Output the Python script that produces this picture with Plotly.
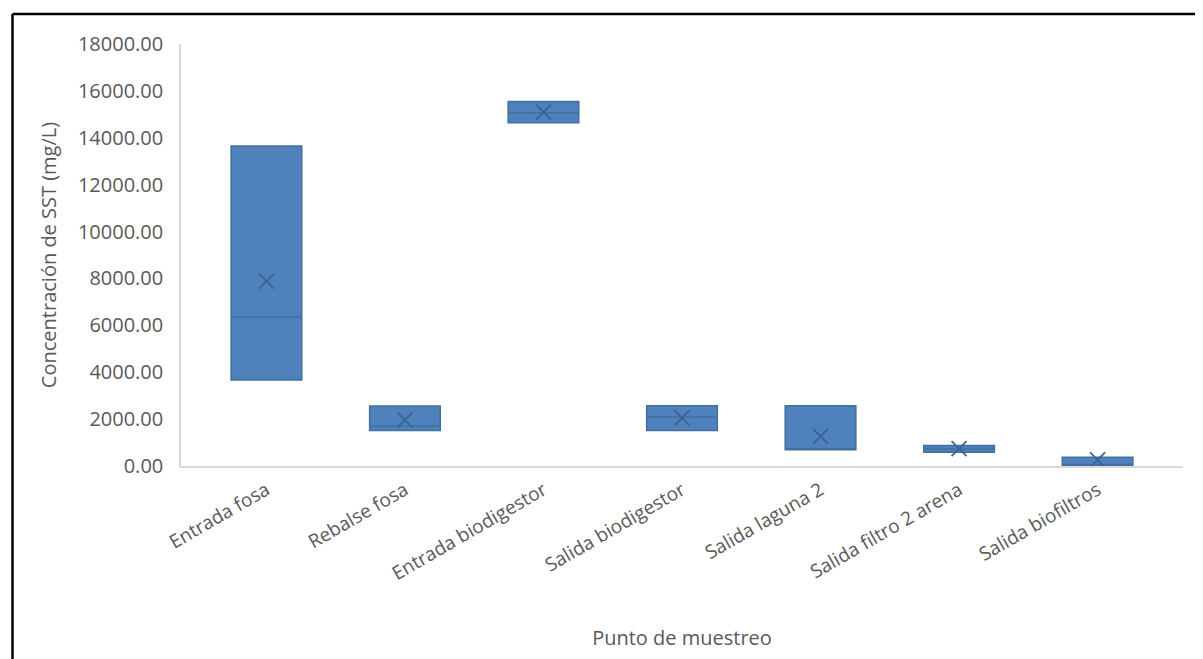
import plotly.graph_objects as go

categories = ["Entrada fosa", "Rebalse fosa", "Entrada biodigestor", "Salida biodigestor",
              "Salida laguna 2", "Salida filtro 2 arena", "Salida biofiltros"]
q1_vals = [3670, 1510, 14640, 1510, 690, 590, 20]
median_vals = [6350, 1710, 15070, 2090, 690, 725, 20]
q3_vals = [13650, 2560, 15550, 2570, 2570, 870, 370]
mean_vals = [7890, 1960, 15100, 2050, 1260, 740, 260]
y_ticks = [0, 2000, 4000, 6000, 8000, 10000, 12000, 14000, 16000, 18000]

FILL = "#4F81BD"
EDGE = "#41709C"
TXT = "#595959"
FONT = "Open Sans"

# page body has an 8px margin; compensate
OFF = 8
W, H = 1203 - OFF, 659 - OFF
L, T = 181 - OFF, 44 - OFF
PW, PH = 1002, 422
R, B = W - L - PW, H - T - PH

fig = go.Figure()
fig.add_trace(go.Box(
    x=categories, q1=q1_vals, median=median_vals, q3=q3_vals,
    lowerfence=q1_vals, upperfence=q3_vals,
    fillcolor=FILL, line=dict(color=EDGE, width=1.5),
    width=0.51, whiskerwidth=0, boxpoints=False, showlegend=False,
    hoverinfo="skip",
))
fig.add_trace(go.Scatter(
    x=categories, y=mean_vals, mode="markers",
    marker=dict(symbol="x-thin", size=15, line=dict(color="#3A6393", width=1.8)),
    showlegend=False, hoverinfo="skip",
))

def px(xp):
    return (xp - OFF - L) / PW

def py(yp):
    return 1 - (yp - OFF - T) / PH

fig.update_layout(
    width=W, height=H,
    margin=dict(l=L, r=R, t=T, b=B),
    paper_bgcolor="white", plot_bgcolor="white",
    font=dict(family=FONT, color=TXT, size=20),
    xaxis=dict(
        showline=True, linecolor="#D9D9D9", linewidth=1.5,
        showgrid=False, ticks="", tickangle=-30,
        tickfont=dict(size=19, color=TXT), ticklabelstandoff=4,
        title=dict(text="Punto de muestreo", font=dict(size=20, color=TXT), standoff=46),
    ),
    yaxis=dict(
        range=[0, 18000], tickvals=y_ticks, tickformat=".2f",
        showline=True, linecolor="#D9D9D9", linewidth=1.5,
        showgrid=False, ticks="", zeroline=False,
        tickfont=dict(size=20, color=TXT), ticklabelstandoff=12,
        title=dict(text="Concentración de SST (mg/L)", font=dict(size=20, color=TXT), standoff=16),
    ),
    shapes=[
        dict(type="line", xref="paper", yref="paper",
             x0=px(12.5), x1=px(1203), y0=py(14), y1=py(14),
             line=dict(color="black", width=2.5)),
        dict(type="line", xref="paper", yref="paper",
             x0=px(12.5), x1=px(12.5), y0=py(14), y1=py(662),
             line=dict(color="black", width=2.5)),
    ],
)

fig.write_html("out.html")
